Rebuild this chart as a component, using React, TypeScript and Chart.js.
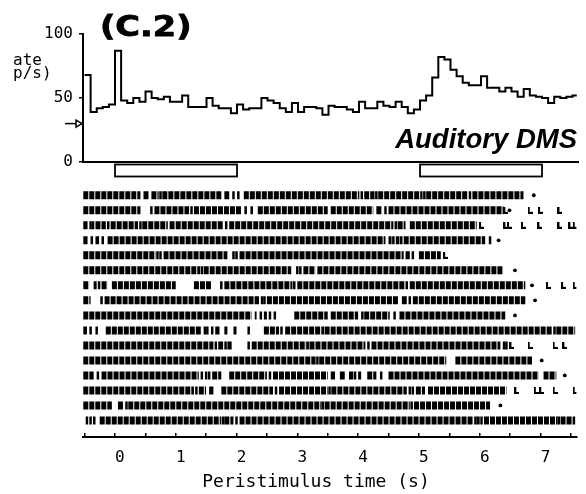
import React, { useEffect, useRef } from 'react';
import { Chart, registerables } from 'chart.js';

Chart.register(...registerables);

// ---------- data ----------
const TIME_MIN = -0.525;
const TIME_MAX = 7.59;
const BIN_START = -0.5;
const BIN_WIDTH = 0.1;
const PSTH_END = 7.57;

// firing rate (imp/s) per 0.1 s bin, starting at -0.5 s
const psthRates = [
  68, 39, 42, 43, 45,
  87, 48, 46, 50, 47, 55, 50, 49, 51, 47,
  47, 52, 43, 43, 43, 50, 44, 42, 42, 38,
  45, 41, 42, 42, 50, 48, 46, 42, 39, 46,
  39, 43, 43, 42, 37, 44, 43, 43, 41, 39,
  47, 42, 42, 47, 44, 43, 47, 43, 38, 41,
  48, 52, 66, 82, 80, 72, 67, 62, 60, 60,
  67, 58, 58, 55, 58, 55, 51, 57, 52, 51,
  50, 46, 51, 50, 51, 52,
];

const rateTicks = [0, 50, 100];
const baselineRate = 30;
const timeTicks = [-0.5, 0, 0.5, 1, 1.5, 2, 2.5, 3, 3.5, 4, 4.5, 5, 5.5, 6, 6.5, 7, 7.5];
const stimulusPeriods = [
  [0, 2],
  [5, 7],
];

// raster: dense-firing stretches per trial (s)
const rasterSegments: number[][][] = [
  [[-0.52, 0.42], [0.47, 0.56], [0.6, 0.72], [0.78, 1.75], [1.8, 1.88], [2.12, 4.02], [4.1, 4.27], [4.33, 5.06], [5.12, 5.8], [5.88, 6.72]],
  [[-0.52, 0.42], [0.65, 1.22], [1.3, 2.08], [2.35, 3.5], [3.55, 4.25], [4.3, 4.4], [4.5, 6.39]],
  [[-0.52, -0.45], [-0.32, -0.15], [-0.07, 0.38], [0.45, 0.87], [1.0, 1.78], [1.88, 4.58], [4.65, 4.78], [4.85, 5.95]],
  [[-0.52, -0.45], [-0.32, -0.26], [-0.12, 4.45], [4.5, 4.55], [4.62, 4.68], [4.75, 6.09]],
  [[-0.52, 0.67], [0.8, 1.85], [2.05, 4.75], [4.78, 4.85], [5.0, 5.36]],
  [[-0.52, 1.4], [1.46, 2.9], [3.1, 3.3], [3.33, 6.39]],
  [[-0.52, -0.42], [-0.35, -0.3], [-0.22, -0.12], [-0.05, 1.0], [1.3, 1.58], [1.8, 2.92], [3.0, 4.77], [4.85, 6.75]],
  [[-0.52, -0.4], [-0.17, 2.37], [2.5, 4.67], [4.72, 4.8], [4.9, 6.75]],
  [[-0.52, 2.25], [2.3, 2.33], [2.45, 2.5], [2.95, 3.5], [3.55, 4.0], [4.1, 4.52], [4.68, 6.42]],
  [[-0.52, -0.46], [-0.15, 1.42], [1.65, 1.72], [1.8, 1.85], [1.95, 2.0], [2.45, 2.7], [2.8, 3.4], [3.45, 7.2], [7.26, 7.57]],
  [[-0.52, 1.62], [1.7, 1.78], [1.85, 1.92], [2.25, 3.15], [3.2, 4.12], [4.22, 6.34]],
  [[-0.52, 3.3], [3.36, 5.45], [5.6, 6.86]],
  [[-0.52, -0.35], [-0.22, 1.38], [1.48, 1.52], [1.6, 1.75], [1.88, 2.5], [2.6, 3.5], [3.55, 3.62], [3.7, 3.78], [3.85, 3.92], [4.0, 4.05], [4.15, 4.3], [4.5, 6.97], [7.05, 7.26]],
  [[-0.52, 1.3], [1.38, 1.5], [1.55, 1.62], [1.75, 2.6], [2.7, 3.5], [3.56, 4.8], [4.95, 5.1], [5.15, 6.44]],
  [[-0.52, -0.05], [0.05, 0.15], [0.22, 3.4], [3.45, 4.85], [4.92, 6.17]],
  [[-0.25, 1.75], [1.8, 1.95], [2.05, 5.9], [5.95, 6.0], [6.07, 7.28], [7.33, 7.57]],
];

// isolated spikes per trial (s)
const rasterSpikes: number[][] = [
  [0.75, 1.95, 2.03, 4.06, 4.3, 5.09, 5.84],
  [0.6, 1.26, 2.15, 2.25, 4.45],
  [-0.4, -0.36, -0.11, 0.42, 0.92, 0.96, 1.83, 4.62],
  [-0.38, -0.2, 4.58, 4.71, 6.17],
  [0.7, 0.75, 1.95, 2.0, 4.9],
  [1.43, 3.0, 3.05],
  [-0.26, 1.75, 2.95, 4.8],
  [-0.22, 2.42, 2.46, 4.85],
  [2.4, 2.55, 2.63, 4.07, 4.6],
  [-0.4, -0.3, 1.48, 1.52, 1.6, 2.2, 2.74, 3.42, 7.23],
  [1.66, 1.82, 2.2, 3.17, 4.17, 6.4, 6.44],
  [3.33],
  [-0.28, 1.43, 1.55, 2.55, 3.95, 4.38],
  [1.34, 2.65, 3.53, 4.85, 4.9],
  [0.19, 3.42, 4.88],
  [-0.46, -0.4, -0.34, 1.78, 2.0, 5.93, 6.03, 7.3],
];

// trial-end markers (s), null = none
const trialEndDots: (number | null)[] = [6.89, 6.49, null, 6.31, null, 6.58, 6.86, 6.91, 6.58, null, null, 7.02, 7.4, null, 6.34, null];

// "L" marks after trial end (s)
const lickMarks: number[][] = [
  [], [6.43, 6.83, 7.0, 7.32], [6.03, 6.43, 6.49, 6.72, 6.99, 7.32, 7.5, 7.57], [], [5.44], [],
  [7.13, 7.38, 7.57], [], [], [], [6.53, 6.83, 7.24, 7.4], [], [], [6.61, 6.93, 7.02, 7.24, 7.57], [], [],
];

const ROW_MIN = 0.416;
const ROW_MAX = 17.1;

export default function App() {
  const topRef = useRef<HTMLCanvasElement>(null);
  const botRef = useRef<HTMLCanvasElement>(null);

  useEffect(() => {
    const mono = '"DejaVu Sans Mono", monospace';

    const psthData = psthRates.map((v, i) => ({ x: BIN_START + i * BIN_WIDTH, y: v }));
    psthData.push({ x: PSTH_END, y: psthRates[psthRates.length - 1] });

    const topDecor = {
      id: 'topDecor',
      afterDraw(chart: any) {
        const ctx = chart.ctx as CanvasRenderingContext2D;
        const xs = chart.scales.x;
        const ys = chart.scales.y;
        const area = chart.chartArea;
        ctx.save();
        ctx.fillStyle = '#000';
        ctx.strokeStyle = '#000';
        // panel label
        ctx.save();
        ctx.font = 'bold 28px "DejaVu Sans"';
        ctx.textBaseline = 'alphabetic';
        ctx.translate(100, 36);
        ctx.scale(1.2, 1);
        ctx.lineWidth = 0.8;
        ctx.fillText('(C.2)', 0, 0);
        ctx.strokeText('(C.2)', 0, 0);
        ctx.restore();
        // y title (clipped)
        ctx.font = `16px ${mono}`;
        ctx.textAlign = 'left';
        ctx.textBaseline = 'alphabetic';
        ctx.fillText('ate', 13, 65);
        ctx.fillText('p/s)', 13, 78);
        // condition label
        ctx.font = 'italic bold 27.5px "Liberation Sans", Arial, sans-serif';
        ctx.textAlign = 'right';
        ctx.fillText('Auditory DMS', 577, 148);
        // baseline arrow
        const ay = ys.getPixelForValue(baselineRate);
        const ax = area.left;
        ctx.lineWidth = 1.5;
        ctx.beginPath();
        ctx.moveTo(ax - 18, ay);
        ctx.lineTo(ax - 7, ay);
        ctx.stroke();
        ctx.beginPath();
        ctx.moveTo(ax - 7, ay - 3.5);
        ctx.lineTo(ax - 1, ay);
        ctx.lineTo(ax - 7, ay + 3.5);
        ctx.closePath();
        ctx.fillStyle = '#fff';
        ctx.fill();
        ctx.stroke();
        // stimulus periods
        stimulusPeriods.forEach(([a, b]) => {
          const x1 = xs.getPixelForValue(a);
          const x2 = xs.getPixelForValue(b);
          ctx.fillStyle = '#fff';
          ctx.fillRect(x1, 164.5, x2 - x1, 12);
          ctx.lineWidth = 1.8;
          ctx.strokeRect(x1, 164.5, x2 - x1, 12);
        });
        ctx.restore();
      },
    };

    const top = new Chart(topRef.current as HTMLCanvasElement, {
      type: 'line',
      data: {
        datasets: [
          {
            data: psthData,
            stepped: true,
            borderColor: '#000',
            borderWidth: 2,
            pointRadius: 0,
            fill: false,
          } as any,
        ],
      },
      options: {
        animation: false,
        responsive: false,
        events: [],
        layout: { padding: { top: 34, right: 8, left: 0, bottom: 0 } },
        plugins: { legend: { display: false }, tooltip: { enabled: false } },
        scales: {
          x: {
            type: 'linear',
            min: TIME_MIN,
            max: TIME_MAX,
            grid: { display: false },
            ticks: { display: false },
            border: { color: '#000', width: 2 },
            afterFit: (a: any) => {
              a.height = 18;
            },
          },
          y: {
            type: 'linear',
            min: 0,
            max: 100,
            afterBuildTicks: (a: any) => {
              a.ticks = rateTicks.map((v) => ({ value: v }));
            },
            ticks: { color: '#000', font: { family: mono, size: 16 }, padding: 6 },
            grid: { drawOnChartArea: false, color: '#000', tickLength: 4, lineWidth: 1.5 },
            border: { color: '#000', width: 2 },
            afterFit: (a: any) => {
              a.width = 83;
            },
          },
        } as any,
      },
      plugins: [topDecor],
    });

    // raster data
    const segData: any[] = [];
    rasterSegments.forEach((segs, r) => {
      segs.forEach(([a, b]) => {
        segData.push({ x: a, y: r + 1 }, { x: b, y: r + 1 }, { x: b, y: null });
      });
    });
    const spikeData: any[] = [];
    rasterSpikes.forEach((sp, r) => sp.forEach((t) => spikeData.push({ x: t, y: r + 1 })));
    const dotData: any[] = [];
    trialEndDots.forEach((t, r) => {
      if (t !== null) dotData.push({ x: t, y: r + 1 });
    });
    const lickData: any[] = [];
    lickMarks.forEach((ls, r) => ls.forEach((t) => lickData.push({ x: t, y: r + 1 })));

    const lick = document.createElement('canvas');
    lick.width = 5;
    lick.height = 7;
    const lc = lick.getContext('2d') as CanvasRenderingContext2D;
    lc.fillStyle = '#000';
    lc.fillRect(0, 0, 2, 7);
    lc.fillRect(0, 5, 5, 2);

    const botDecor = {
      id: 'botDecor',
      afterDraw(chart: any) {
        const ctx = chart.ctx as CanvasRenderingContext2D;
        ctx.save();
        ctx.fillStyle = '#000';
        ctx.font = `18px ${mono}`;
        ctx.textAlign = 'center';
        ctx.textBaseline = 'middle';
        ctx.fillText('Peristimulus time (s)', 316, 302);
        ctx.restore();
      },
    };

    const bottom = new Chart(botRef.current as HTMLCanvasElement, {
      type: 'scatter',
      data: {
        datasets: [
          {
            data: segData,
            showLine: true,
            spanGaps: false,
            borderColor: '#000',
            borderWidth: 8,
            borderDash: [5, 1],
            borderCapStyle: 'butt',
            pointRadius: 0,
          } as any,
          {
            data: spikeData,
            pointStyle: 'line',
            rotation: 90,
            radius: 4,
            borderWidth: 2.5,
            borderColor: '#000',
            backgroundColor: '#000',
          } as any,
          {
            data: dotData,
            pointStyle: 'circle',
            radius: 1.9,
            borderWidth: 0,
            backgroundColor: '#000',
          } as any,
          {
            data: lickData,
            pointStyle: lick,
            radius: 3,
          } as any,
        ],
      },
      options: {
        animation: false,
        responsive: false,
        events: [],
        layout: { padding: { left: 83, right: 8, top: 0, bottom: 0 } },
        plugins: { legend: { display: false }, tooltip: { enabled: false } },
        scales: {
          x: {
            type: 'linear',
            min: TIME_MIN,
            max: TIME_MAX,
            afterBuildTicks: (a: any) => {
              a.ticks = timeTicks.map((v) => ({ value: v }));
            },
            ticks: {
              callback: (v: any) => (Number.isInteger(v) ? String(v) : ''),
              labelOffset: 5,
              padding: 15,
              maxRotation: 0,
              autoSkip: false,
              color: '#000',
              font: { family: mono, size: 16 },
            },
            grid: { drawOnChartArea: false, tickLength: -4, color: '#000', lineWidth: 1.5 },
            border: { color: '#000', width: 2 },
            afterFit: (a: any) => {
              a.height = 57;
            },
          },
          y: { type: 'linear', display: false, reverse: true, min: ROW_MIN, max: ROW_MAX },
        } as any,
      },
      plugins: [botDecor],
    });

    return () => {
      top.destroy();
      bottom.destroy();
    };
  }, []);

  return (
    <div style={{ position: 'absolute', left: 0, top: 0, width: 586, height: 494, background: '#fff' }}>
      <canvas ref={topRef} width={586} height={180} style={{ display: 'block' }} />
      <canvas ref={botRef} width={586} height={314} style={{ display: 'block' }} />
    </div>
  );
}
